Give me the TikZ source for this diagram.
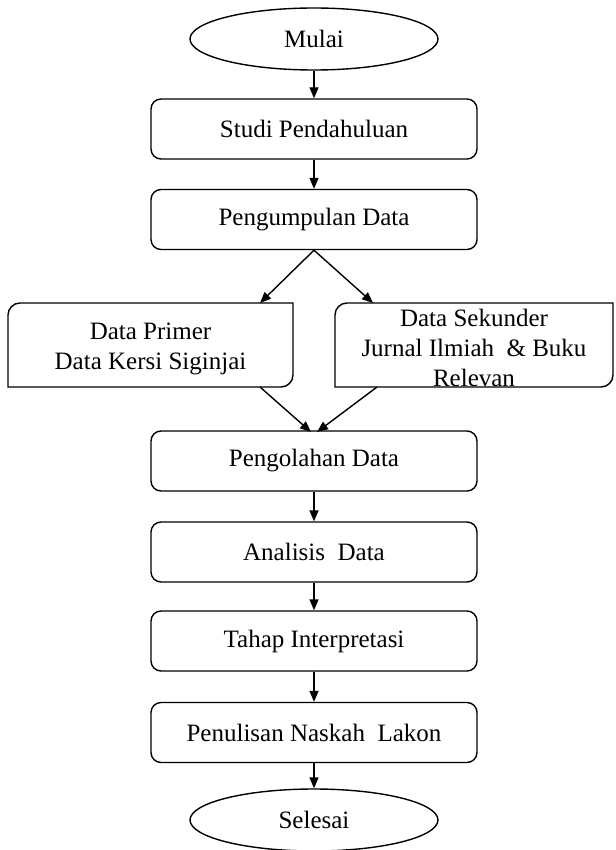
\documentclass[tikz,border=0pt]{standalone}
\usepackage{fontspec}
\setmainfont{Liberation Serif}
\usetikzlibrary{shapes.geometric,arrows.meta}
\tikzset{
  terminal/.style={draw, ellipse, line width=0.7pt, inner sep=0pt, minimum width=124pt, minimum height=31pt},
  stepbox/.style={draw, rectangle, rounded corners=5pt, line width=0.7pt, minimum width=163pt, minimum height=30pt},
  sidebox/.style={rectangle, inner sep=0pt, align=center, font=\fontsize{12.5}{15}\selectfont},
  sideline/.style={line width=0.7pt},
  flow/.style={-{Triangle[length=5.5pt,width=4.5pt]}, line width=0.7pt},
}
\begin{document}
\begin{tikzpicture}[x=0.5pt, y=-0.5pt, font=\fontsize{12.5}{15}\selectfont]
\useasboundingbox (0,0) rectangle (615,850);
		\node [terminal] (mulai) at (314, 39) {Mulai};
		\node [stepbox] (studi) at (314, 129) {Studi Pendahuluan};
		\node [stepbox] (kumpul) at (314, 219.5) {Pengumpulan Data};
		\coordinate (primNW) at (8, 303);
		\coordinate (primSE) at (293, 387);
		\coordinate (sekNW) at (335, 303);
		\coordinate (sekSE) at (613, 387);

% diagonal corners rounded only
\draw [sideline] ([yshift=-6pt]primNW) arc[start angle=180, end angle=90, radius=6pt] -- (primNW -| primSE) -- ([yshift=6pt]primSE) arc[start angle=0, end angle=-90, radius=6pt] -- (primNW |- primSE) -- cycle;
\draw [sideline] ([yshift=-6pt]sekNW) arc[start angle=180, end angle=90, radius=6pt] -- (sekNW -| sekSE) -- ([yshift=6pt]sekSE) arc[start angle=0, end angle=-90, radius=6pt] -- (sekNW |- sekSE) -- cycle;

		\node [sidebox] (primer) at (150.5, 349) {Data Primer\\Data Kersi Siginjai};
		\node [sidebox] (sekunder) at (474, 348) {Data Sekunder\\Jurnal Ilmiah~ \& Buku\\Relevan};
		\node [stepbox] (olah) at (314, 461) {Pengolahan Data};
		\node [stepbox] (analisis) at (314, 552) {Analisis~ Data};
		\node [stepbox] (tahap) at (314, 641) {Tahap Interpretasi};
		\node [stepbox] (tulis) at (314, 732.5) {Penulisan Naskah~ Lakon};
		\node [terminal] (selesai) at (314, 820) {Selesai};

		\coordinate (primIn) at (260, 303);
		\coordinate (sekIn) at (373, 303);
		\coordinate (primOut) at (260, 387);
		\coordinate (sekOut) at (377, 387);
		\coordinate (olahL) at (311, 432);
		\coordinate (olahR) at (317, 432);

		\draw [flow] (mulai) to (studi);
		\draw [flow] (studi) to (kumpul);
		\draw [flow] (kumpul.south) to (primIn);
		\draw [flow] (kumpul.south) to (sekIn);
		\draw [flow] (primOut) to (olahL);
		\draw [flow] (sekOut) to (olahR);
		\draw [flow] (olah) to (analisis);
		\draw [flow] (analisis) to (tahap);
		\draw [flow] (tahap) to (tulis);
		\draw [flow] (tulis) to (selesai);
\end{tikzpicture}
\end{document}
